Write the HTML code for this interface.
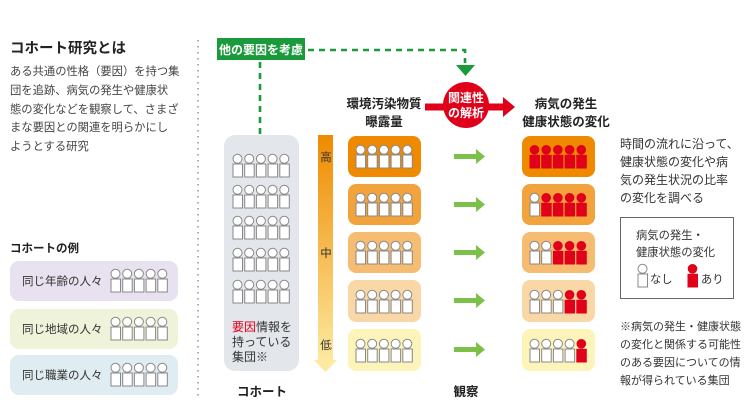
<!DOCTYPE html>
<html><head><meta charset="utf-8"><style>
body{margin:0;width:750px;height:403px;overflow:hidden;background:#fff;font-family:"Liberation Sans","Noto Sans CJK JP",sans-serif;color:#333}
svg{position:absolute;left:0;top:0}
</style></head><body>
<svg width="750" height="403" viewBox="0 0 750 403" font-family="Liberation Sans, Noto Sans CJK JP, sans-serif">
<defs>
<linearGradient id="bar" x1="0" y1="0" x2="0" y2="1"><stop offset="0" stop-color="#ef8a00"/><stop offset="1" stop-color="#fdeaa0"/></linearGradient>
<g id="pw"><circle cx="5.5" cy="4.8" r="4.5" fill="#fff" stroke="#888" stroke-width="1"/><rect x="1" y="10" width="9.5" height="13" fill="#fff" stroke="#888" stroke-width="1"/></g>
<g id="pr"><circle cx="5.5" cy="4.8" r="4.8" fill="#e0001a"/><rect x="0.5" y="9.8" width="10.5" height="13.7" fill="#e0001a"/></g>
<g id="w5"><use href="#pw" x="0"/><use href="#pw" x="11.7"/><use href="#pw" x="23.4"/><use href="#pw" x="35.1"/><use href="#pw" x="46.8"/></g>
</defs>
<!-- left -->
<text x="10" y="53" font-size="14.5" font-weight="bold" fill="#222">コホート研究とは</text>
<g font-size="11.3" fill="#444">
<text x="10" y="75">ある共通の性格（要因）を持つ集</text>
<text x="10" y="94">団を追跡、病気の発生や健康状</text>
<text x="10" y="113">態の変化などを観察して、さまざ</text>
<text x="10" y="131">まな要因との関連を明らかにし</text>
<text x="10" y="150">ようとする研究</text>
</g>
<text x="10" y="252" font-size="11.5" font-weight="bold" fill="#222">コホートの例</text>
<rect x="10" y="261" width="168" height="40" rx="9" fill="#e8e1ef"/>
<rect x="10" y="309" width="168" height="40" rx="9" fill="#eef3da"/>
<rect x="10" y="355" width="168" height="40" rx="9" fill="#dfecf1"/>
<g font-size="11.5" fill="#333">
<text x="22" y="285">同じ年齢の人々</text>
<text x="22" y="333">同じ地域の人々</text>
<text x="22" y="379">同じ職業の人々</text>
</g>
<use href="#w5" x="110" y="269"/><use href="#w5" x="110" y="317"/><use href="#w5" x="110" y="363"/>
<line x1="198" y1="40" x2="198" y2="400" stroke="#999" stroke-width="1.6" stroke-dasharray="1.5 4.5"/>
<!-- green -->
<rect x="217" y="38" width="88" height="22" fill="#1a9a3a"/>
<text x="261" y="54" font-size="12" font-weight="bold" fill="#fff" text-anchor="middle">他の要因を考慮</text>
<path d="M260 62V135" stroke="#1a9a3a" stroke-width="2.6" stroke-dasharray="6 5"/>
<path d="M308 50H465V63" fill="none" stroke="#1a9a3a" stroke-width="2.6" stroke-dasharray="6 5"/>
<path d="M456 65H475L465.5 76Z" fill="#1a9a3a"/>
<!-- cohort -->
<rect x="224" y="135" width="75" height="236" rx="11" fill="#e3e6ea"/>
<use href="#w5" x="232" y="154"/><use href="#w5" x="232" y="185"/><use href="#w5" x="232" y="216"/><use href="#w5" x="232" y="248"/><use href="#w5" x="232" y="280"/>
<g font-size="12" fill="#333"><text x="232" y="331"><tspan fill="#e0001a">要因</tspan>情報を</text><text x="232" y="346">持っている</text><text x="232" y="361">集団※</text></g>
<text x="237" y="396" font-size="12.5" font-weight="bold" fill="#222">コホート</text>
<!-- bar -->
<rect x="318" y="135" width="15" height="228" fill="url(#bar)"/>
<path d="M314 360H337L325.5 372Z" fill="#fde9a0"/>
<g font-size="11.5" fill="#333" text-anchor="middle"><text x="326" y="161">高</text><text x="326" y="257">中</text><text x="326" y="349">低</text></g>
<!-- headers -->
<g font-size="12.5" font-weight="bold" fill="#222" text-anchor="middle">
<text x="384" y="108">環境汚染物質</text><text x="384" y="126">曝露量</text>
<text x="566" y="108">病気の発生</text><text x="566" y="126">健康状態の変化</text>
</g>
<rect x="425" y="103.5" width="81" height="7" fill="#e0001a"/>
<path d="M503 97L515 107L503 117Z" fill="#e0001a"/>
<circle cx="466" cy="105" r="23" fill="#e0001a"/>
<g font-size="12" font-weight="bold" fill="#fff" text-anchor="middle"><text x="466" y="102">関連性</text><text x="466" y="117">の解析</text></g>
<!-- rows -->
<g>
<rect x="348" y="136" width="73" height="41" rx="8" fill="#ef8a00"/>
<rect x="348" y="184" width="73" height="41" rx="8" fill="#f3a33c"/>
<rect x="348" y="232" width="73" height="41" rx="8" fill="#f6bd72"/>
<rect x="348" y="280" width="73" height="42" rx="8" fill="#fad7a6"/>
<rect x="348" y="329" width="73" height="42" rx="8" fill="#fdf4ba"/>
<rect x="522" y="136" width="73" height="41" rx="8" fill="#ef8a00"/>
<rect x="522" y="184" width="73" height="41" rx="8" fill="#f3a33c"/>
<rect x="522" y="232" width="73" height="41" rx="8" fill="#f6bd72"/>
<rect x="522" y="280" width="73" height="42" rx="8" fill="#fad7a6"/>
<rect x="522" y="329" width="73" height="42" rx="8" fill="#fdf4ba"/>
</g>
<use href="#w5" x="355" y="145"/><use href="#w5" x="355" y="193"/><use href="#w5" x="355" y="241"/><use href="#w5" x="355" y="290"/><use href="#w5" x="355" y="339"/>
<g transform="translate(529,145)"><use href="#pr" x="0"/><use href="#pr" x="11.7"/><use href="#pr" x="23.4"/><use href="#pr" x="35.1"/><use href="#pr" x="46.8"/></g>
<g transform="translate(529,193)"><use href="#pw" x="0"/><use href="#pr" x="11.7"/><use href="#pr" x="23.4"/><use href="#pr" x="35.1"/><use href="#pr" x="46.8"/></g>
<g transform="translate(529,241)"><use href="#pw" x="0"/><use href="#pw" x="11.7"/><use href="#pr" x="23.4"/><use href="#pr" x="35.1"/><use href="#pr" x="46.8"/></g>
<g transform="translate(529,290)"><use href="#pw" x="0"/><use href="#pw" x="11.7"/><use href="#pw" x="23.4"/><use href="#pr" x="35.1"/><use href="#pr" x="46.8"/></g>
<g transform="translate(529,339)"><use href="#pw" x="0"/><use href="#pw" x="11.7"/><use href="#pw" x="23.4"/><use href="#pw" x="35.1"/><use href="#pr" x="46.8"/></g>
<g fill="#7cc04a">
<path d="M454 154H476V149L485 156.5L476 164V159H454Z"/>
<path d="M454 202H476V197L485 204.5L476 212V207H454Z"/>
<path d="M454 250H476V245L485 252.5L476 260V255H454Z"/>
<path d="M454 298H476V293L485 300.5L476 308V303H454Z"/>
<path d="M454 347H476V342L485 349.5L476 357V352H454Z"/>
</g>
<text x="466" y="396" font-size="12.5" font-weight="bold" fill="#222" text-anchor="middle">観察</text>
<!-- right -->
<g font-size="12" fill="#333">
<text x="620" y="148">時間の流れに沿って、</text>
<text x="620" y="166">健康状態の変化や病</text>
<text x="620" y="184">気の発生状況の比率</text>
<text x="620" y="202">の変化を調べる</text>
</g>
<rect x="620.5" y="217.5" width="113" height="81" fill="#fff" stroke="#666" stroke-width="1"/>
<g font-size="11.3" fill="#333"><text x="636" y="239">病気の発生・</text><text x="636" y="256">健康状態の変化</text>
<text x="650" y="283">なし</text><text x="701" y="283">あり</text></g>
<use href="#pw" x="637" y="264"/><use href="#pr" x="687" y="264"/>
<g font-size="11" fill="#333">
<text x="620" y="330">※病気の発生・健康状態</text>
<text x="620" y="348">の変化と関係する可能性</text>
<text x="620" y="366">のある要因についての情</text>
<text x="620" y="384">報が得られている集団</text>
</g>
</svg>
</body></html>
